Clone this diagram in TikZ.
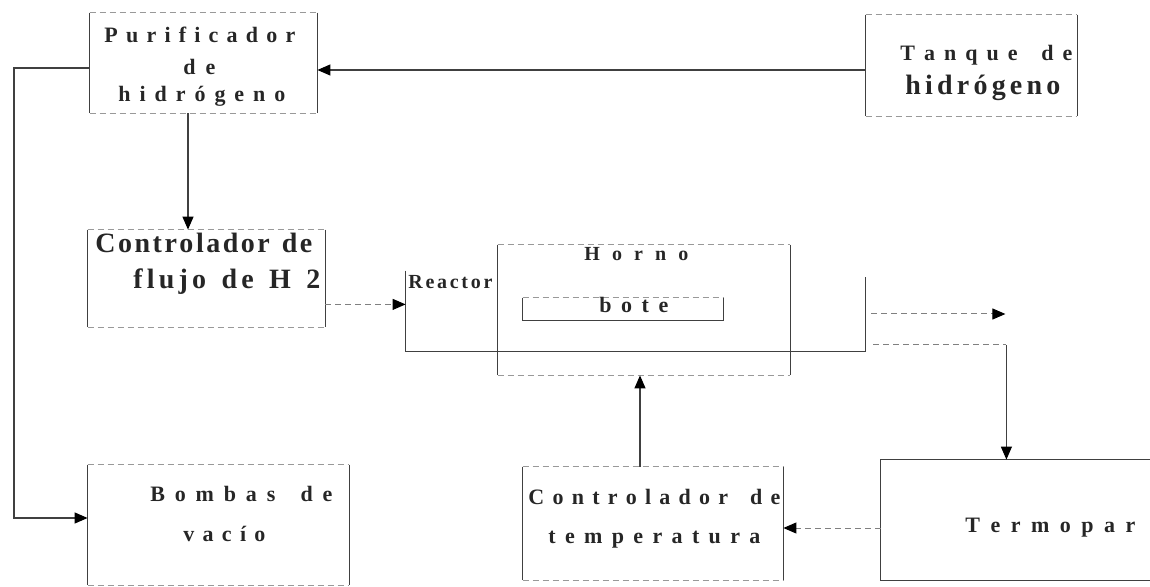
\documentclass[tikz,border=0pt]{standalone}
\usepackage{fontspec}
\setmainfont{Liberation Serif}
\usetikzlibrary{fit,calc,arrows.meta}
\makeatletter
\newcommand\spreadtext[2]{\hbox to \dimexpr#1pt/2\relax{\@tfor\@ltr:=#2\do{\@ltr\hfil}\unskip}}
\makeatother
\newcommand\fsz[1]{\fontsize{#1pt}{#1pt}\selectfont\bfseries}
\tikzset{
  edge/.style={draw=black!75, line width=0.6pt},
  faint/.style={draw=black!40, line width=0.5pt, densely dashed},
  arr/.style={edge, -{Triangle[length=6.5pt,width=5.5pt,color=black]}},
  darr/.style={draw=black!50, line width=0.5pt, densely dashed, -{Triangle[length=6.5pt,width=5.5pt,color=black]}},
  boxarea/.style={inner sep=0pt, draw=none},
  txt/.style={inner sep=0pt, anchor=mid west, text=black!85}
}
\begin{document}
\begin{tikzpicture}[x=0.5pt,y=-0.5pt]
\useasboundingbox (0,0) rectangle (1150,587);
% box areas
\node[boxarea, fit={(90,13) (317,113)}] (pur) {};
\node[boxarea, fit={(866,15) (1077,116)}] (tan) {};
\node[boxarea, fit={(88,230) (325,327)}] (flu) {};
\node[boxarea, fit={(406,271) (865,351)}] (rea) {};
\node[boxarea, fit={(498,245) (790,375)}] (hor) {};
\node[boxarea, fit={(523,298) (723,320)}] (bot) {};
\node[boxarea, fit={(88,465) (349,585)}] (bom) {};
\node[boxarea, fit={(523,467) (783,580)}] (ct) {};
\node[boxarea, fit={(881,460) (1150,580)}] (ter) {};
% box edges
\foreach \b in {pur,tan,flu,hor,bom,ct}{
  \draw[edge] (\b.north west) -- (\b.south west) (\b.north east) -- (\b.south east);
  \draw[faint] (\b.north west) -- (\b.north east) (\b.south west) -- (\b.south east);
}
\draw[edge] (bot.north west) -- (bot.south west) -- (bot.south east) -- (bot.north east);
\draw[faint] (bot.north west) -- (bot.north east);
\draw[edge] (rea.north west) -- (rea.south west) -- (rea.south east) -- ($(rea.north east)+(0,6)$);
\draw[edge] (ter.north east) -- (ter.north west) -- (ter.south west) -- (ter.south east);
% texts
\node[txt, font=\fsz{11}] (t1) at (104,38) {\spreadtext{191}{Purificador}};
\node[txt, font=\fsz{11}] (t2) at (183,70) {\spreadtext{32}{de}};
\node[txt, font=\fsz{11}] (t3) at (118,97) {\spreadtext{167}{hidrógeno}};
\node[txt, font=\fsz{11}] (t4) at (900,56) {\spreadtext{172}{Tanque{\ }de}};
\node[txt, font=\fsz{14}] (t5) at (905,90) {\spreadtext{155}{hidrógeno}};
\node[txt, font=\fsz{14}] (t6) at (95,248) {\spreadtext{217}{Controlador{\ }de}};
\node[txt, font=\fsz{14}] (t7) at (133,284) {\spreadtext{187}{flujo{\ }de{\ }H{\ }2}};
\node[txt, font=\fsz{10}] (t8) at (408,284) {\spreadtext{84}{Reactor}};
\node[txt, font=\fsz{10}] (t9) at (584,256) {\spreadtext{104}{Horno}};
\node[txt, font=\fsz{11}] (t10) at (599,308) {\spreadtext{69}{bote}};
\node[txt, font=\fsz{11}] (t11) at (150,497) {\spreadtext{182}{Bombas{\ }de}};
\node[txt, font=\fsz{11}] (t12) at (183,537) {\spreadtext{82}{vacío}};
\node[txt, font=\fsz{11}] (t13) at (528,500) {\spreadtext{252}{Controlador{\ }de}};
\node[txt, font=\fsz{11}] (t14) at (548,539) {\spreadtext{212}{temperatura}};
\node[txt, font=\fsz{11}] (t15) at (965,528) {\spreadtext{170}{Termopar}};
% connectors
\draw[arr] ($(tan.west)+(0,4.5)$) coordinate (a1) -- (a1 -| pur.east);
\draw[arr] ($(pur.west)+(0,5)$) -- (14,68) -- (14,518) coordinate (a2) -- (a2 -| bom.west);
\draw[arr] ($(pur.south)+(-15.5,0)$) coordinate (a3) -- (a3 |- flu.north);
\draw[darr] ($(flu.south east)+(0,-23)$) coordinate (a4) -- (a4 -| rea.west);
\draw[darr] ($(rea.east)+(6,3)$) -- ++(134,0) coordinate (o1);
\draw[darr, -] ($(rea.east)+(8,34)$) -- ++(133,0) coordinate (a5);
\draw[arr] (a5) -- (a5 |- ter.north);
\draw[arr] ($(ct.north)+(-13,0)$) coordinate (a6) -- (a6 |- hor.south);
\draw[darr] ($(ter.west)+(0,8)$) coordinate (a7) -- (a7 -| ct.east);
\end{tikzpicture}
\end{document}
